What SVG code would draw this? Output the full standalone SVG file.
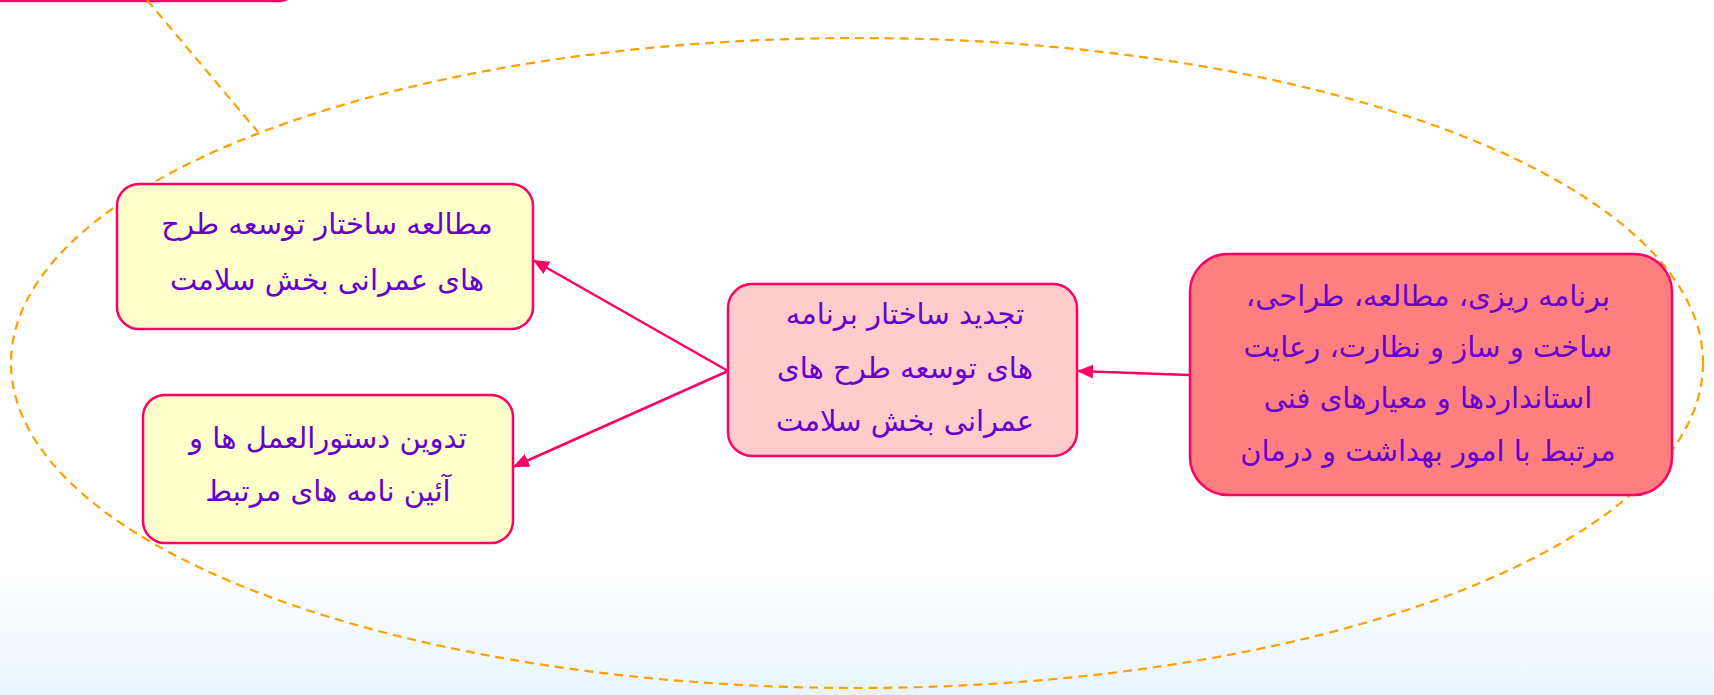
<svg xmlns="http://www.w3.org/2000/svg" width="1714" height="695" viewBox="0 0 1714 695">
  <defs>
    <linearGradient id="bg" x1="0" y1="0" x2="0" y2="1">
      <stop offset="0" stop-color="#ffffff"/>
      <stop offset="0.82" stop-color="#ffffff"/>
      <stop offset="1" stop-color="#e9f5fc"/>
    </linearGradient>
    <marker id="arrow" viewBox="0 0 16 14" refX="16" refY="7" markerWidth="16" markerHeight="14" markerUnits="userSpaceOnUse" orient="auto">
      <path d="M0,0 L16,7 L0,14 Z" fill="#ff0066"/>
    </marker>
    <style>
      .node rect { stroke: #ff0066; stroke-width: 2.5; }
      .yellow { fill: #ffffcc; }
      .pink { fill: #ffcccc; }
      .red { fill: #ff7f80; }
      .label { font-family: "DejaVu Sans", sans-serif; font-size: 29px; fill: #6600cc; text-anchor: middle; direction: rtl; }
      .link { stroke: #ff0066; stroke-width: 2.5; fill: none; marker-end: url(#arrow); }
      .dash { stroke: #ffa000; stroke-width: 2.2; fill: none; stroke-dasharray: 9 6; }
    </style>
  </defs>

  <rect width="1714" height="695" fill="url(#bg)"/>

  <!-- partial box at top edge -->
  <g id="top-box" class="node">
    <rect x="-40" y="-60" width="337" height="61" rx="18" fill="#ffffff"/>
  </g>

  <!-- dashed grouping outline -->
  <g id="group-outline">
    <line class="dash" x1="147" y1="0" x2="258" y2="132"/>
    <ellipse class="dash" cx="857" cy="363" rx="846" ry="325"/>
  </g>

  <g id="connectors">
    <line class="link" x1="1189" y1="375" x2="1077" y2="371"/>
    <line class="link" x1="728" y1="371" x2="533" y2="260"/>
    <line class="link" x1="728" y1="371" x2="513" y2="467"/>
  </g>

  <g id="node-study" class="node">
    <rect class="yellow" x="117" y="184" width="416" height="145" rx="22"/>
    <text class="label" x="327" y="234">مطالعه ساختار توسعه طرح</text>
    <text class="label" x="327" y="290">های عمرانی بخش سلامت</text>
  </g>

  <g id="node-rules" class="node">
    <rect class="yellow" x="143" y="395" width="370" height="148" rx="22"/>
    <text class="label" x="328" y="448">تدوین دستورالعمل ها و</text>
    <text class="label" x="328" y="501">آئین نامه های مرتبط</text>
  </g>

  <g id="node-restructure" class="node">
    <rect class="pink" x="728" y="284" width="349" height="172" rx="24"/>
    <text class="label" x="905" y="324">تجدید ساختار برنامه</text>
    <text class="label" x="905" y="378">های توسعه طرح های</text>
    <text class="label" x="905" y="431">عمرانی بخش سلامت</text>
  </g>

  <g id="node-planning" class="node">
    <rect class="red" x="1190" y="254" width="482" height="241" rx="38"/>
    <text class="label" x="1428" y="306">برنامه ریزی، مطالعه، طراحی،</text>
    <text class="label" x="1428" y="357">ساخت و ساز و نظارت، رعایت</text>
    <text class="label" x="1428" y="408">استانداردها و معیارهای فنی</text>
    <text class="label" x="1428" y="461">مرتبط با امور بهداشت و درمان</text>
  </g>
</svg>
